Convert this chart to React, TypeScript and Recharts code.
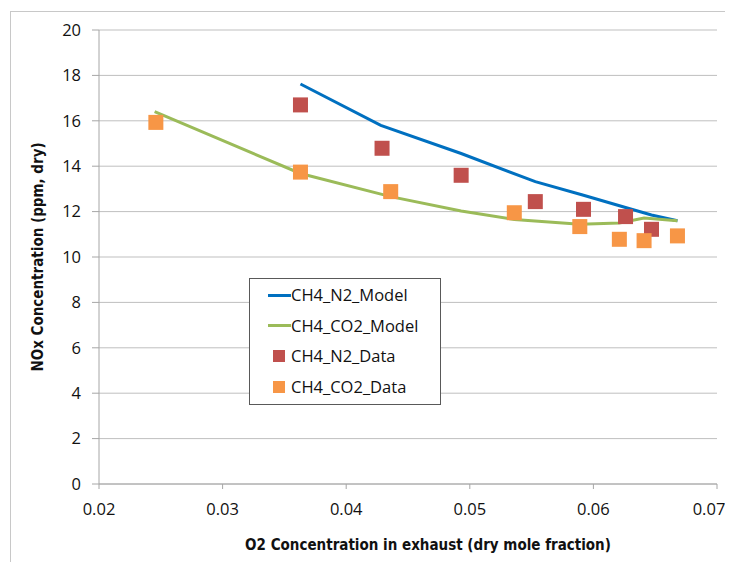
import {
  ComposedChart,
  Line,
  Scatter,
  XAxis,
  YAxis,
  CartesianGrid,
  Legend,
} from "recharts";

// O2 mole fraction (x) vs NOx ppm (y)
const n2ModelX = [0.0363, 0.0428, 0.0493, 0.0553, 0.0592, 0.0626, 0.0647, 0.0668];
const n2ModelY = [17.62, 15.8, 14.56, 13.32, 12.72, 12.18, 11.85, 11.6];
const co2ModelX = [0.0245, 0.0363, 0.0436, 0.0493, 0.0536, 0.0589, 0.0621, 0.0641, 0.0668];
const co2ModelY = [16.4, 13.68, 12.66, 12.03, 11.65, 11.44, 11.5, 11.72, 11.6];
const n2DataX = [0.0363, 0.0429, 0.0493, 0.0553, 0.0592, 0.0626, 0.0647];
const n2DataY = [16.7, 14.79, 13.6, 12.44, 12.1, 11.78, 11.22];
const co2DataX = [0.0246, 0.0363, 0.0436, 0.0536, 0.0589, 0.0621, 0.0641, 0.0668];
const co2DataY = [15.93, 13.74, 12.88, 11.95, 11.34, 10.78, 10.72, 10.93];

const seriesNames = ["CH4_N2_Model", "CH4_CO2_Model", "CH4_N2_Data", "CH4_CO2_Data"];
const xTicks = [0.02, 0.03, 0.04, 0.05, 0.06, 0.07];
const yTicks = [0, 2, 4, 6, 8, 10, 12, 14, 16, 18, 20];

const zip = (xs: number[], ys: number[]) => xs.map((x, i) => ({ x, y: ys[i] }));

const TICK_FONT = "'Open Sans', sans-serif";
const TITLE_FONT = "'DejaVu Sans Condensed', 'Liberation Sans', sans-serif";

function SquareDot(props: any) {
  const { cx, cy, fill } = props;
  if (cx == null || cy == null) return null;
  return <rect x={cx - 7.5} y={cy - 7.5} width={15} height={15} fill={fill} />;
}

// x tick label; the last one is nudged in so it isn't clipped at the window edge
function XTick(props: any) {
  const { x, y, payload, index } = props;
  const last = index === xTicks.length - 1;
  return (
    <text
      x={last ? x - 8 : x}
      y={y}
      dy="0.71em"
      textAnchor="middle"
      fill="#111"
      fontSize={16.5}
      fontFamily={TICK_FONT}
    >
      {payload.value.toFixed(2)}
    </text>
  );
}

// Excel-style boxed legend, kept in the series order of the original
function LegendBox(props: any) {
  const items = [...(props.payload ?? [])].sort(
    (a: any, b: any) => seriesNames.indexOf(a.value) - seriesNames.indexOf(b.value)
  );
  return (
    <div
      style={{
        width: 190,
        height: 125,
        border: "1px solid #595959",
        background: "#fff",
        position: "relative",
        fontFamily: TICK_FONT,
        fontSize: 16.5,
        color: "#111",
      }}
    >
      {items.map((it: any, i: number) => {
        const top = 16 + i * 30.7;
        return (
          <div key={i} style={{ position: "absolute", left: 0, top: top - 12, height: 24, width: 190 }}>
            {it.type === "line" ? (
              <div style={{ position: "absolute", left: 18, top: 10.5, width: 23, height: 3, background: it.color }} />
            ) : (
              <div style={{ position: "absolute", left: 23, top: 6, width: 12, height: 12, background: it.color }} />
            )}
            <span style={{ position: "absolute", left: 41, top: 0, lineHeight: "24px", whiteSpace: "nowrap" }}>
              {it.value}
            </span>
          </div>
        );
      })}
    </div>
  );
}

export default function App() {
  // negative margin cancels the body's 8px so the chart fills the 733x570 window exactly
  return (
    <div style={{ position: "relative", margin: -8, width: 733, height: 570, overflow: "hidden", background: "#fff" }}>
      <div
        style={{
          position: "absolute",
          left: 10,
          top: 11,
          width: 740,
          height: 570,
          borderLeft: "1px solid #c8c8c8",
          borderTop: "1px solid #c8c8c8",
        }}
      />
      <ComposedChart
        width={733}
        height={570}
        margin={{ top: 30, right: 16, bottom: 0, left: 0 }}
        style={{ position: "absolute", left: 0, top: 0 }}
      >
        <CartesianGrid vertical={false} stroke="#bfbfbf" />
        <XAxis
          dataKey="x"
          type="number"
          domain={[0.02, 0.07]}
          ticks={xTicks}
          interval={0}
          allowDataOverflow
          height={86}
          stroke="#a6a6a6"
          tickSize={5}
          tickMargin={14}
          tick={<XTick />}
          label={{
            value: "O2 Concentration in exhaust (dry mole fraction)",
            position: "center",
            dx: 20,
            dy: 18,
            fill: "#111",
            fontSize: 15,
            fontWeight: "bold",
            fontFamily: TITLE_FONT,
          }}
        />
        <YAxis
          type="number"
          domain={[0, 20]}
          ticks={yTicks}
          width={99}
          stroke="#a6a6a6"
          tickSize={7}
          tickMargin={11}
          tick={{ fill: "#111", fontSize: 16.5, fontFamily: TICK_FONT }}
          label={{
            value: "NOx Concentration (ppm, dry)",
            angle: -90,
            position: "center",
            dx: -12,
            fill: "#111",
            fontSize: 15,
            fontWeight: "bold",
            fontFamily: TITLE_FONT,
          }}
        />
        <Legend
          content={<LegendBox />}
          wrapperStyle={{ position: "absolute", left: 249, top: 278, width: 0, height: 0, overflow: "visible" }}
        />
        <Line
          data={zip(n2ModelX, n2ModelY)}
          dataKey="y"
          name="CH4_N2_Model"
          stroke="#0070C0"
          strokeWidth={3}
          dot={false}
          legendType="line"
          isAnimationActive={false}
        />
        <Line
          data={zip(co2ModelX, co2ModelY)}
          dataKey="y"
          name="CH4_CO2_Model"
          stroke="#9BBB59"
          strokeWidth={3}
          dot={false}
          legendType="line"
          isAnimationActive={false}
        />
        <Scatter
          data={zip(n2DataX, n2DataY)}
          dataKey="y"
          name="CH4_N2_Data"
          fill="#C0504D"
          shape={<SquareDot />}
          legendType="square"
          isAnimationActive={false}
        />
        <Scatter
          data={zip(co2DataX, co2DataY)}
          dataKey="y"
          name="CH4_CO2_Data"
          fill="#F79646"
          shape={<SquareDot />}
          legendType="square"
          isAnimationActive={false}
        />
      </ComposedChart>
    </div>
  );
}
